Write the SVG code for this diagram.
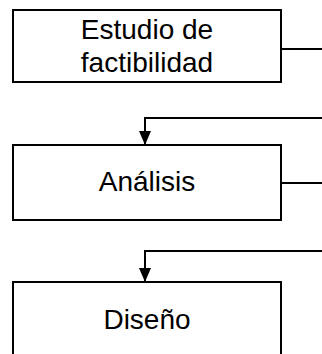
<svg xmlns="http://www.w3.org/2000/svg" width="322" height="354" viewBox="0 0 322 354">
<defs>
<style>
.box{fill:#fff;stroke:#000;stroke-width:2}
.lbl{font-family:"Liberation Sans",Arial,sans-serif;font-size:28px;fill:#000;text-anchor:middle}
.con{fill:none;stroke:#000;stroke-width:2}
</style>
<marker id="arr" markerWidth="14" markerHeight="12" viewBox="0 0 14 12" refX="14" refY="6" orient="auto" markerUnits="userSpaceOnUse">
<path d="M0,0 L14,6 L0,12 Z" fill="#000"/>
</marker>
</defs>
<rect width="322" height="354" fill="#fff"/>
<g id="n1">
<rect class="box" x="13" y="10" width="268" height="72"/>
<text class="lbl" x="147" y="39">Estudio de</text>
<text class="lbl" x="147" y="72">factibilidad</text>
</g>
<g id="n2">
<rect class="box" x="13" y="145" width="268" height="75"/>
<text class="lbl" x="147" y="191">Análisis</text>
</g>
<g id="n3">
<rect class="box" x="13" y="282" width="268" height="80"/>
<text class="lbl" x="147" y="329">Diseño</text>
</g>
<g id="connectors">
<path class="con" d="M281,49 H322"/>
<path class="con" d="M322,118 H145 V145" marker-end="url(#arr)"/>
<path class="con" d="M281,183 H322"/>
<path class="con" d="M322,251 H145 V282" marker-end="url(#arr)"/>
</g>
</svg>
